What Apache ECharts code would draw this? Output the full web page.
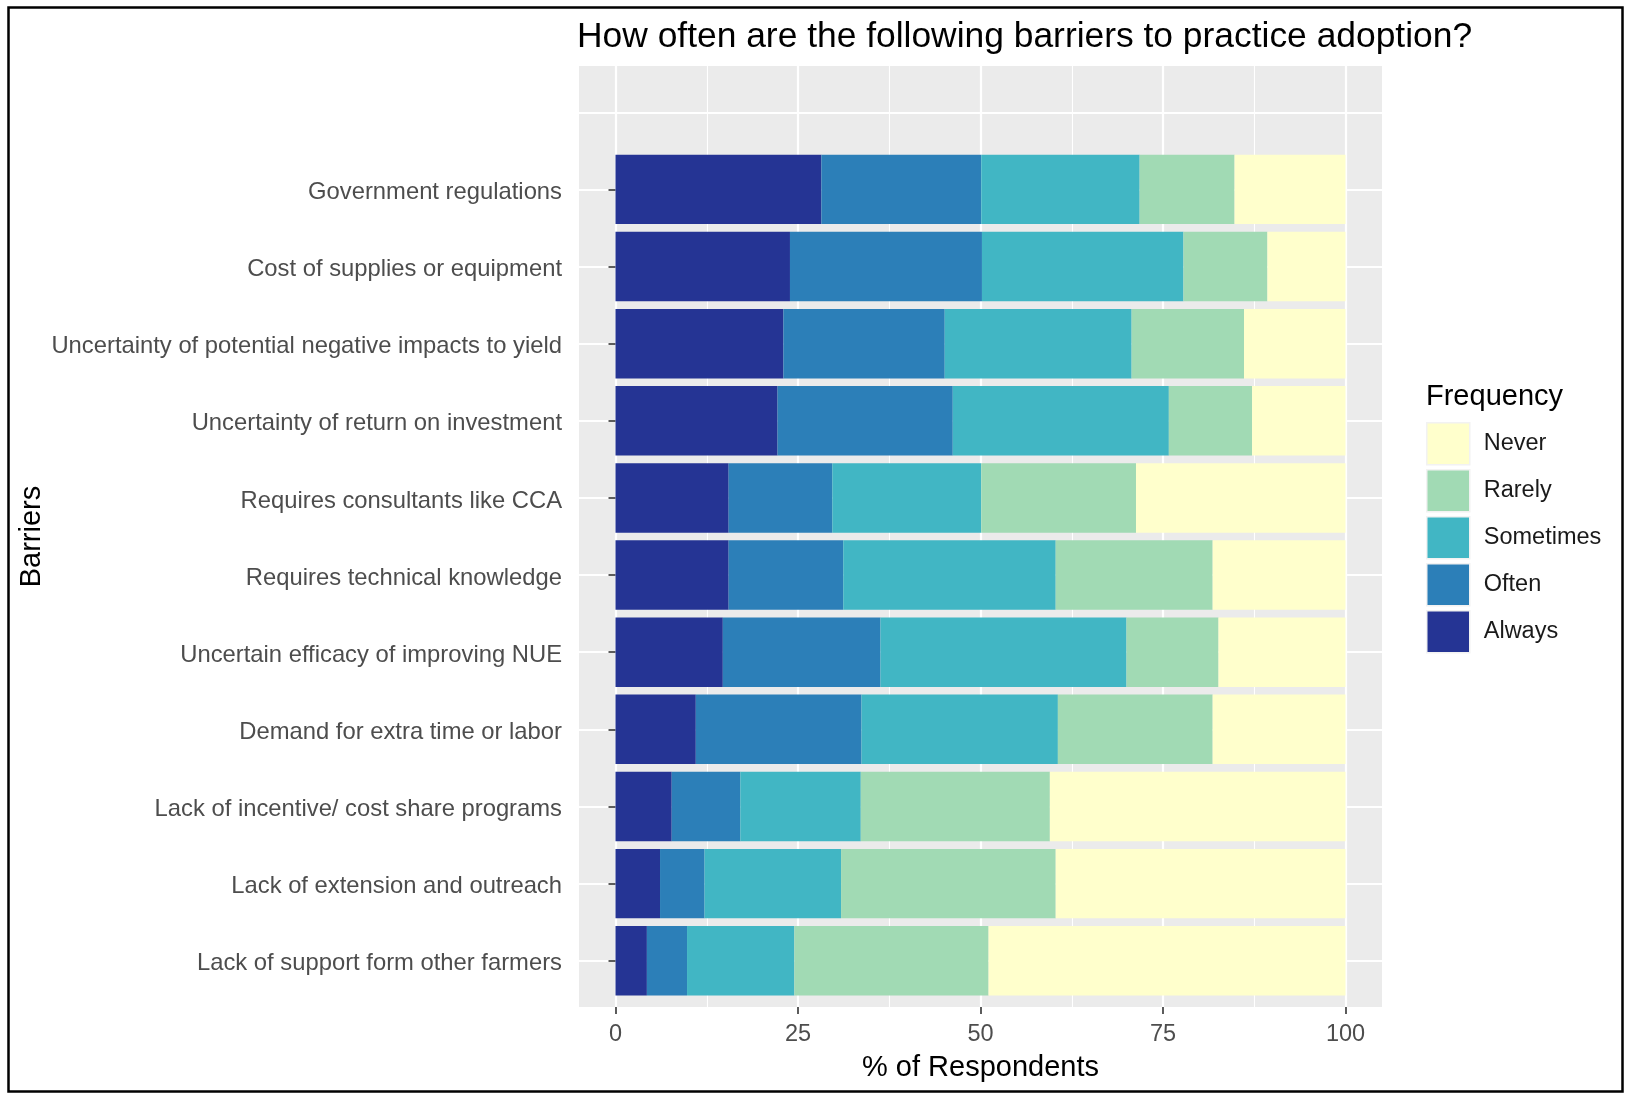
<!DOCTYPE html>
<html>
<head>
<meta charset="utf-8">
<script src="https://cdn.jsdelivr.net/npm/echarts@6/dist/echarts.min.js"></script>
<style>
html,body{margin:0;padding:0;background:#fff;}
#chart{width:1627px;height:1093px;}
</style>
</head>
<body>
<div id="chart"></div>
<script>
// ---- data ----
const categories = [
  'Government regulations',
  'Cost of supplies or equipment',
  'Uncertainty of potential negative impacts to yield',
  'Uncertainty of return on investment',
  'Requires consultants like CCA',
  'Requires technical knowledge',
  'Uncertain efficacy of improving NUE',
  'Demand for extra time or labor',
  'Lack of incentive/ cost share programs',
  'Lack of extension and outreach',
  'Lack of support form other farmers'
];
const always    = [28.2, 23.9, 23.0, 22.2, 15.5, 15.5, 14.7, 11.0, 7.7, 6.1, 4.3];
const often     = [21.9, 26.3, 22.1, 24.0, 14.2, 15.7, 21.6, 22.7, 9.4, 6.1, 5.5];
const sometimes = [21.7, 27.6, 25.6, 29.6, 20.4, 29.1, 33.7, 26.9, 16.5, 18.7, 14.7];
const rarely    = [13.0, 11.5, 15.4, 11.4, 21.2, 21.5, 12.6, 21.2, 25.9, 29.4, 26.6];
const never     = [15.2, 10.7, 13.9, 12.8, 28.7, 18.2, 17.4, 18.2, 40.5, 39.7, 48.9];
const legendOrder = ['Never', 'Rarely', 'Sometimes', 'Often', 'Always'];
const xTicks = [0, 25, 50, 75, 100];

// ---- layout ----
const FONT = "'Liberation Sans', Arial, sans-serif";
const panelLeft = 579, panelWidth = 803, panelTop = 66, panelHeight = 941;
const xUnit = panelWidth / 110;               // 5% expansion each side
const nCat = categories.length + 1;           // one blank category on top
const yUnit = panelHeight / (nCat - 1 + 1.2); // 0.6 expansion each side
const colors = {Always:'#253494', Often:'#2C7FB8', Sometimes:'#41B6C4', Rarely:'#A1DAB4', Never:'#FFFFCC'};

const axisCats = [''].concat(categories);
function pad(arr){ return ['-'].concat(arr); }

const seriesDefs = [
  ['Always', always], ['Often', often], ['Sometimes', sometimes], ['Rarely', rarely], ['Never', never]
];

const chart = echarts.init(document.getElementById('chart'), null, {renderer:'canvas'});
chart.setOption({
  animation: false,
  backgroundColor: '#fff',
  textStyle: {fontFamily: FONT},
  title: [
    {text: 'How often are the following barriers to practice adoption?', left: 577, top: 20, padding: 0,
     textStyle: {fontFamily: FONT, fontSize: 35.4, fontWeight: 'normal', color: '#000'}},
    {text: 'Frequency', left: 1426, top: 382, padding: 0,
     textStyle: {fontFamily: FONT, fontSize: 29, fontWeight: 'normal', color: '#000'}}
  ],
  legend: {
    orient: 'vertical', left: 1426, top: 422, padding: 0,
    itemWidth: 43, itemHeight: 42, itemGap: 3.5,
    icon: 'rect',
    data: legendOrder,
    textStyle: {fontFamily: FONT, fontSize: 23.5, color: '#1a1a1a', padding: [0,0,0,9]},
    itemStyle: {borderColor: '#F2F2F2', borderWidth: 1.5},
    selectedMode: false
  },
  grid: [
    {left: panelLeft, top: panelTop, width: panelWidth, height: panelHeight, show: true,
     backgroundColor: '#EBEBEB', borderWidth: 0, containLabel: false},
    {left: panelLeft, top: panelTop + 0.6 * yUnit, width: panelWidth, height: (nCat - 1) * yUnit,
     show: false, containLabel: false},
    {left: panelLeft + 5 * xUnit, top: panelTop, width: 100 * xUnit, height: panelHeight,
     show: false, containLabel: false}
  ],
  xAxis: [
    {gridIndex: 0, type: 'value', min: -5, max: 105, show: false},
    {gridIndex: 1, type: 'value', min: -5, max: 105, show: false},
    {gridIndex: 2, type: 'value', min: 0, max: 100, interval: 25, z: 1,
     axisLine: {show: false},
     axisTick: {show: true, length: 7, lineStyle: {color: '#333', width: 1.6}},
     axisLabel: {show: true, margin: 16, fontSize: 23.5, color: '#4D4D4D', fontFamily: FONT,
                 customValues: xTicks},
     splitLine: {show: true, lineStyle: {color: '#fff', width: 2.2}},
     minorTick: {show: false, splitNumber: 2},
     minorSplitLine: {show: true, lineStyle: {color: '#fff', width: 1.1}},
     name: '% of Respondents', nameLocation: 'middle', nameGap: 46,
     nameTextStyle: {fontFamily: FONT, fontSize: 29, color: '#000'}}
  ],
  yAxis: [
    {gridIndex: 0, type: 'value', min: 0, max: 1, show: false},
    {gridIndex: 1, type: 'category', data: axisCats, inverse: true, boundaryGap: false, z: 1,
     axisLine: {show: false},
     axisTick: {show: true, length: 7, lineStyle: {color: '#333', width: 1.6},
                interval: function (idx, val) { return val !== ''; }},
     axisLabel: {show: true, margin: 17, fontSize: 23.8, color: '#4D4D4D', fontFamily: FONT, interval: 0,
                 formatter: function (v) { return v ? '{l|' + v + '}' : ''; },
                 rich: {l: {fontSize: 23.8, color: '#4D4D4D', fontFamily: FONT, padding: [6, 0, 0, 0]}}},
     splitLine: {show: true, lineStyle: {color: '#fff', width: 2.2}, interval: 0},
     name: 'Barriers', nameLocation: 'middle', nameRotate: 90, nameGap: 533,
     nameTextStyle: {fontFamily: FONT, fontSize: 29, color: '#000'}},
    {gridIndex: 2, type: 'value', min: 0, max: 1, show: false}
  ],
  series: seriesDefs.map(([name, vals]) => ({
    name: name, type: 'bar', stack: 'total',
    xAxisIndex: 1, yAxisIndex: 1,
    barCategoryGap: '10%', clip: false, z: 3,
    itemStyle: {color: colors[name], borderWidth: 0},
    emphasis: {disabled: true},
    data: pad(vals)
  })),
  graphic: [
    {type: 'rect', left: 6, top: 5, silent: true, z: 100,
     shape: {width: 1614, height: 1084},
     style: {fill: 'none', stroke: '#000', lineWidth: 2.5}}
  ]
});
</script>
</body>
</html>
